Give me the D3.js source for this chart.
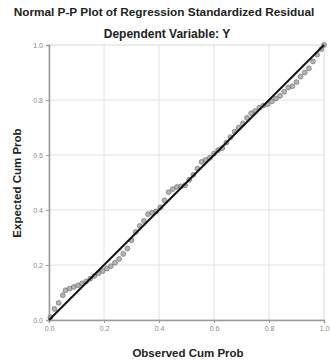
<!DOCTYPE html>
<html><head><meta charset="utf-8">
<script src="https://cdn.jsdelivr.net/npm/d3@7"></script>
<style>body{margin:0;background:#fff}svg{display:block}</style>
</head><body><svg id="c" width="330" height="362"></svg>
<script>
const title = "Normal P-P Plot of Regression Standardized Residual";
const subtitle = "Dependent Variable: Y";
const xLabel = "Observed Cum Prob";
const yLabel = "Expected Cum Prob";
const ticks = [0.0, 0.2, 0.4, 0.6, 0.8, 1.0];
const observed = [0.005,0.02,0.035,0.05,0.06,0.075,0.09,0.105,0.12,0.135,0.15,0.165,0.18,0.195,0.21,0.225,0.24,0.255,0.27,0.285,0.30,0.315,0.33,0.345,0.36,0.375,0.39,0.405,0.42,0.435,0.45,0.465,0.48,0.495,0.51,0.525,0.54,0.555,0.57,0.585,0.60,0.615,0.63,0.645,0.66,0.675,0.69,0.705,0.72,0.735,0.75,0.765,0.78,0.795,0.81,0.825,0.84,0.855,0.87,0.885,0.90,0.915,0.93,0.945,0.96,0.975,0.99,1.0];
const expected = [0.01,0.04,0.062,0.09,0.108,0.114,0.12,0.126,0.133,0.14,0.15,0.16,0.17,0.178,0.187,0.196,0.208,0.222,0.24,0.26,0.29,0.32,0.342,0.36,0.385,0.39,0.395,0.41,0.435,0.465,0.476,0.484,0.486,0.49,0.51,0.528,0.55,0.575,0.582,0.59,0.605,0.618,0.625,0.645,0.665,0.685,0.70,0.715,0.735,0.752,0.76,0.772,0.78,0.785,0.795,0.805,0.815,0.83,0.845,0.85,0.865,0.885,0.90,0.915,0.94,0.965,0.985,1.0];
const diag = [0, 1];

const svg = d3.select("#c");
const font = "'Liberation Sans', Arial, sans-serif";
const x = d3.scaleLinear().domain([0,1]).range([49,324]);
const y = d3.scaleLinear().domain([0,1]).range([320,45]);

// grid
svg.append("g").selectAll("line.h").data(ticks.slice(1,-1)).join("line")
  .attr("x1", x(0)).attr("x2", x(1)).attr("y1", d=>y(d)).attr("y2", d=>y(d))
  .attr("stroke", "#e2e2e2").attr("stroke-width", 1);
svg.append("g").selectAll("line.v").data(ticks.slice(1,-1)).join("line")
  .attr("y1", y(0)).attr("y2", y(1)).attr("x1", d=>x(d)).attr("x2", d=>x(d))
  .attr("stroke", "#e2e2e2").attr("stroke-width", 1);
// frame
svg.append("rect").attr("x", x(0)).attr("y", y(1)).attr("width", x(1)-x(0)).attr("height", y(0)-y(1))
  .attr("fill", "none").attr("stroke", "#d8d8d8");

// axes
const xa = svg.append("g").attr("transform", `translate(0,${y(0)})`)
  .call(d3.axisBottom(x).tickValues(ticks).tickFormat(d3.format(".1f")).tickSize(3));
const ya = svg.append("g").attr("transform", `translate(${x(0)},0)`)
  .call(d3.axisLeft(y).tickValues(ticks).tickFormat(d3.format(".1f")).tickSize(3));
[xa, ya].forEach(g => {
  g.select(".domain").attr("stroke", "#9a9a9a").attr("stroke-width", 1.5);
  g.selectAll(".tick line").attr("stroke", "#9a9a9a");
  g.selectAll("text").attr("font-family", font).attr("font-size", 7).attr("fill", "#888");
});

// points
svg.append("g").selectAll("circle").data(observed.map((o,i)=>[o, expected[i]])).join("circle")
  .attr("cx", d=>x(d[0])).attr("cy", d=>y(d[1])).attr("r", 2.4)
  .attr("fill", "#a8a8a8").attr("stroke", "#666").attr("stroke-width", 0.8).attr("opacity", 0.85);

// diagonal
svg.append("line").attr("x1", x(diag[0])).attr("y1", y(diag[0])).attr("x2", x(diag[1])).attr("y2", y(diag[1]))
  .attr("stroke", "#111").attr("stroke-width", 2);

// texts
svg.append("text").attr("x", 164).attr("y", 16).attr("text-anchor", "middle")
  .attr("font-family", font).attr("font-weight", "bold").attr("font-size", 11.8).attr("fill", "#222").text(title);
svg.append("text").attr("x", 167).attr("y", 38).attr("text-anchor", "middle")
  .attr("font-family", font).attr("font-weight", "bold").attr("font-size", 12).attr("fill", "#222").text(subtitle);
svg.append("text").attr("x", 188).attr("y", 357).attr("text-anchor", "middle")
  .attr("font-family", font).attr("font-weight", "bold").attr("font-size", 11.5).attr("fill", "#222").text(xLabel);
svg.append("text").attr("transform", "translate(21,183) rotate(-90)").attr("text-anchor", "middle")
  .attr("font-family", font).attr("font-weight", "bold").attr("font-size", 11.5).attr("fill", "#222").text(yLabel);
</script></body></html>
